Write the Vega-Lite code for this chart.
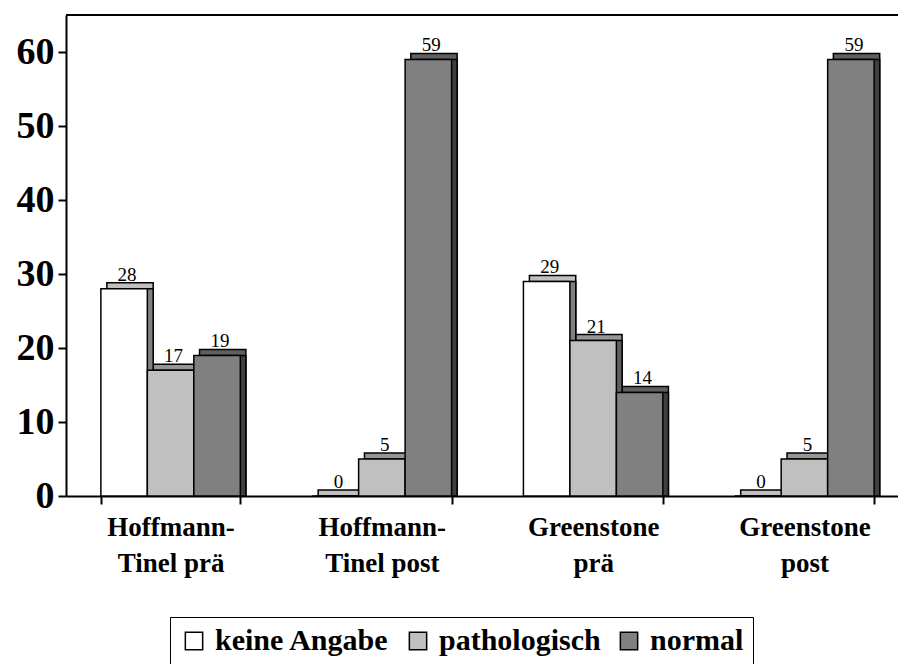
{
  "$schema": "https://vega.github.io/schema/vega-lite/v6.json",
  "autosize": "none",
  "width": 832,
  "height": 481,
  "padding": {"left": 66, "top": 15, "right": 0, "bottom": 168},
  "background": "white",
  "config": {
    "view": {"stroke": null},
    "font": "Times New Roman",
    "axis": {"domainColor": "black", "domainWidth": 2, "tickColor": "black", "tickWidth": 2, "tickSize": 8, "labelColor": "black", "labelFont": "Times New Roman", "labelFontWeight": "bold", "grid": false, "title": null},
    "legend": {"labelFont": "Times New Roman", "labelFontWeight": "bold"}
  },
  "data": {
    "values": [
      {"cat": "Hoffmann-\nTinel prä", "series": "keine Angabe", "value": 28},
      {"cat": "Hoffmann-\nTinel prä", "series": "pathologisch", "value": 17},
      {"cat": "Hoffmann-\nTinel prä", "series": "normal", "value": 19},
      {"cat": "Hoffmann-\nTinel post", "series": "keine Angabe", "value": 0},
      {"cat": "Hoffmann-\nTinel post", "series": "pathologisch", "value": 5},
      {"cat": "Hoffmann-\nTinel post", "series": "normal", "value": 59},
      {"cat": "Greenstone\nprä", "series": "keine Angabe", "value": 29},
      {"cat": "Greenstone\nprä", "series": "pathologisch", "value": 21},
      {"cat": "Greenstone\nprä", "series": "normal", "value": 14},
      {"cat": "Greenstone\npost", "series": "keine Angabe", "value": 0},
      {"cat": "Greenstone\npost", "series": "pathologisch", "value": 5},
      {"cat": "Greenstone\npost", "series": "normal", "value": 59}
    ]
  },
  "layer": [
    {
      "mark": {"type": "bar", "yOffset": -6, "stroke": "black", "strokeWidth": 1.5},
      "encoding": {
        "x": {"field": "cat", "type": "nominal", "sort": null, "scale": {"range": [0, 843], "paddingInner": 0.34, "paddingOuter": 0.165},
          "axis": {"labelAngle": 0, "labelFontSize": 27, "labelLineHeight": 36, "labelPadding": 10, "tickBand": "extent", "labelExpr": "split(datum.label, '\\n')", "labelBaseline": "top", "labelFont": "Times New Roman"}},
        "y": {"field": "value", "type": "quantitative", "stack": null, "scale": {"domain": [0, 65], "nice": false},
          "axis": {"values": [0, 10, 20, 30, 40, 50, 60], "labelFontSize": 38, "labelPadding": 4}},
        "xOffset": {"field": "series", "type": "nominal", "sort": ["keine Angabe", "pathologisch", "normal"], "scale": {"type": "band", "range": [6, 145], "paddingInner": 0, "paddingOuter": 0}},
        "fill": {"field": "series", "type": "nominal", "scale": {"domain": ["keine Angabe", "pathologisch", "normal"], "range": ["#C0C0C0", "#969696", "#5F5F5F"]}, "legend": null}
      }
    },
    {
      "mark": {"type": "bar", "stroke": "black", "strokeWidth": 1.5},
      "encoding": {
        "x": {"field": "cat", "type": "nominal", "sort": null},
        "y": {"field": "value", "type": "quantitative", "stack": null},
        "xOffset": {"field": "series", "type": "nominal", "sort": ["keine Angabe", "pathologisch", "normal"], "scale": {"type": "band", "range": [6, 145], "paddingInner": 0, "paddingOuter": 0}},
        "fill": {"field": "series", "type": "nominal", "scale": {"domain": ["keine Angabe", "pathologisch", "normal"], "range": ["#808080", "#606060", "#404040"]}, "legend": null}
      }
    },
    {
      "mark": {"type": "bar", "stroke": "black", "strokeWidth": 1.5},
      "encoding": {
        "x": {"field": "cat", "type": "nominal", "sort": null},
        "y": {"field": "value", "type": "quantitative", "stack": null},
        "xOffset": {"field": "series", "type": "nominal", "sort": ["keine Angabe", "pathologisch", "normal"], "scale": {"type": "band", "paddingInner": 0, "paddingOuter": 0}},
        "fill": {
          "field": "series", "type": "nominal",
          "scale": {"domain": ["keine Angabe", "pathologisch", "normal"], "range": ["#FFFFFF", "#C0C0C0", "#808080"]},
          "legend": {
            "title": null, "orient": "none", "legendX": 104, "legendY": 602, "direction": "horizontal",
            "strokeColor": "black", "padding": 9, "fillColor": "white",
            "symbolType": "square", "symbolSize": 300, "symbolStrokeColor": "black", "symbolStrokeWidth": 1.5, "symbolOpacity": 1,
            "labelFont": "Times New Roman", "labelFontWeight": "bold", "labelFontSize": 30, "labelColor": "black",
            "labelOffset": 6, "columnPadding": 13, "labelLimit": 300
          }
        }
      }
    },
    {
      "mark": {"type": "text", "font": "Times New Roman", "fontSize": 19, "color": "black", "dx": 3, "dy": -8, "baseline": "alphabetic"},
      "encoding": {
        "x": {"field": "cat", "type": "nominal", "sort": null},
        "y": {"field": "value", "type": "quantitative", "stack": null},
        "xOffset": {"field": "series", "type": "nominal", "sort": ["keine Angabe", "pathologisch", "normal"], "scale": {"type": "band", "paddingInner": 0, "paddingOuter": 0}},
        "text": {"field": "value", "type": "quantitative"}
      }
    },
    {
      "mark": {"type": "rule", "color": "black", "strokeWidth": 2},
      "encoding": {"y": {"datum": 65}}
    }
  ],
  "resolve": {"scale": {"xOffset": "independent", "fill": "independent"}}
}
